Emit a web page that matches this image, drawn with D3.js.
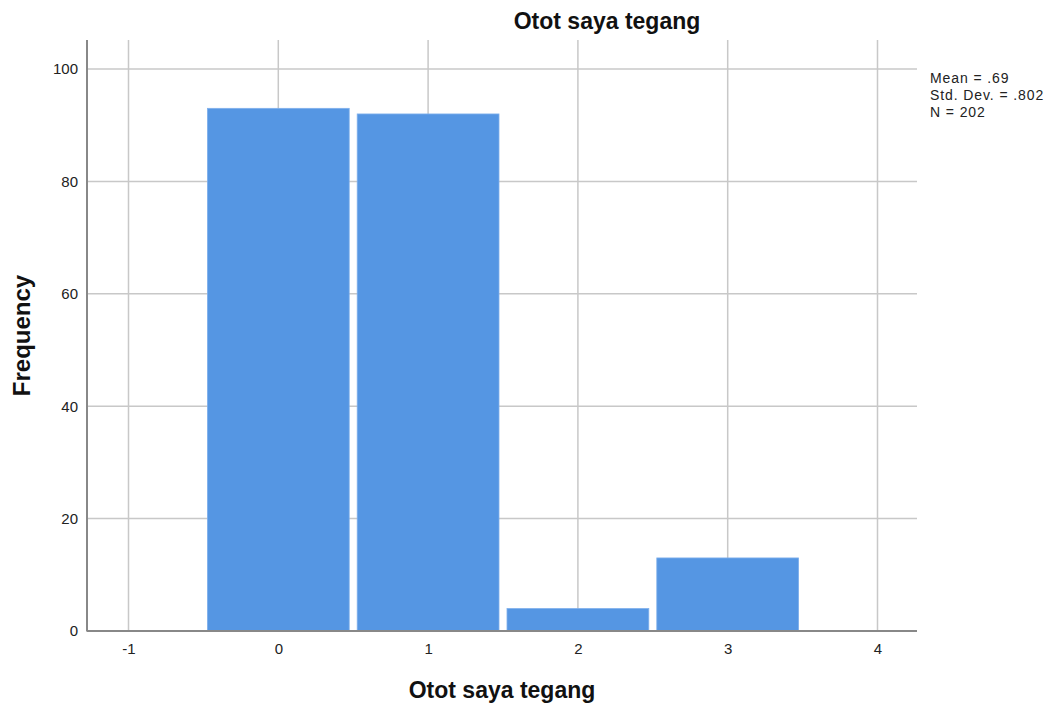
<!DOCTYPE html>
<html><head><meta charset="utf-8">
<script src="https://cdn.jsdelivr.net/npm/d3@7"></script>
<style>body{margin:0;background:#fff}svg{display:block;font-family:"Liberation Sans",Arial,sans-serif}</style>
</head><body><svg id="c" width="1051" height="711"></svg>
<script>
const categories = [0, 1, 2, 3];
const frequencies = [93, 92, 4, 13];
const xTicks = [-1, 0, 1, 2, 3, 4];
const yTicks = [0, 20, 40, 60, 80, 100];
const statsLines = ["Mean = .69", "Std. Dev. = .802", "N = 202"];
const chartTitle = "Otot saya tegang";
const xTitle = "Otot saya tegang";
const yTitle = "Frequency";

(function () {
const svg = d3.select("#c");
const pL = 87, pR = 917, pT = 40, pB = 631;
const x = d3.scaleLinear().domain([-1, 4]).range([128.5, 877.5]);
const y = d3.scaleLinear().domain([0, 100]).range([631, 69]);
const grid = "#c8c8c8";

// grid lines
svg.append("g").selectAll("line").data(yTicks.filter(d => d > 0)).join("line")
  .attr("x1", pL).attr("x2", pR).attr("y1", d => y(d)).attr("y2", d => y(d))
  .attr("stroke", grid).attr("stroke-width", 1.5);
svg.append("g").selectAll("line").data(xTicks).join("line")
  .attr("x1", d => x(d)).attr("x2", d => x(d)).attr("y1", pT).attr("y2", pB)
  .attr("stroke", grid).attr("stroke-width", 1.5);

// bars
const inset = 4;
svg.append("g").selectAll("rect").data(categories).join("rect")
  .attr("x", d => x(d - 0.5) + inset)
  .attr("width", d => x(d + 0.5) - x(d - 0.5) - 2 * inset)
  .attr("y", (d, i) => y(frequencies[i]))
  .attr("height", (d, i) => y(0) - y(frequencies[i]))
  .attr("fill", "#5596e3").attr("stroke", "#7fb0ec").attr("stroke-width", 0.8);

// axes lines
svg.append("line").attr("x1", pL).attr("x2", pL).attr("y1", pT).attr("y2", pB + 0.5)
  .attr("stroke", "#888").attr("stroke-width", 2);
svg.append("line").attr("x1", pL).attr("x2", pR).attr("y1", pB).attr("y2", pB)
  .attr("stroke", "#888").attr("stroke-width", 2);

// tick labels
const yAxis = d3.axisLeft(y).tickValues(yTicks).tickSize(0).tickPadding(9).tickFormat(d3.format("d"));
const gy = svg.append("g").attr("transform", `translate(${pL},0)`).call(yAxis);
gy.select(".domain").remove();
gy.selectAll("text").attr("font-size", 15).attr("fill", "#222").attr("font-family", "Liberation Sans, Arial, sans-serif");

const xAxis = d3.axisBottom(x).tickValues(xTicks).tickSize(0).tickPadding(12).tickFormat(d3.format("d"));
const gx = svg.append("g").attr("transform", `translate(0,${pB})`).call(xAxis);
gx.select(".domain").remove();
gx.selectAll("text").attr("font-size", 15).attr("fill", "#222").attr("font-family", "Liberation Sans, Arial, sans-serif")
  .text(d => d < 0 ? "-" + Math.abs(d) : d);

// titles
svg.append("text").attr("x", 607).attr("y", 29).attr("text-anchor", "middle")
  .attr("font-size", 23).attr("font-weight", "bold").attr("fill", "#111").text(chartTitle);
svg.append("text").attr("x", 502).attr("y", 698).attr("text-anchor", "middle")
  .attr("font-size", 23).attr("font-weight", "bold").attr("fill", "#111").text(xTitle);
svg.append("text").attr("transform", `translate(30,${(pT + pB) / 2}) rotate(-90)`).attr("text-anchor", "middle")
  .attr("font-size", 24).attr("font-weight", "bold").attr("fill", "#111").text(yTitle);

// stats
svg.append("g").selectAll("text").data(statsLines).join("text")
  .attr("x", 930).attr("y", (d, i) => 83 + i * 17)
  .attr("font-size", 14).attr("letter-spacing", 0.9).attr("fill", "#222").text(d => d);
})();
</script></body></html>
